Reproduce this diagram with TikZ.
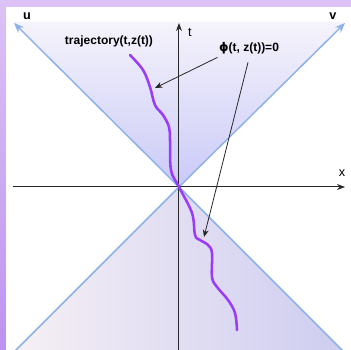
\documentclass[tikz,border=0pt]{standalone}
\usepackage{fontspec}
\setmainfont{Liberation Sans}
\newfontfamily\phifont{DejaVu Sans}
\usepackage{xcolor}
\usepackage{tikz}
\usetikzlibrary{arrows.meta,calc}

\definecolor{frameTop}{RGB}{220,194,246}
\definecolor{frameBot}{RGB}{190,146,240}
\definecolor{coneLine}{RGB}{140,178,232}
\definecolor{coneTop}{RGB}{245,243,251}
\definecolor{coneMid}{RGB}{202,202,248}
\definecolor{coneLeft}{RGB}{247,240,245}
\definecolor{coneRight}{RGB}{204,204,240}
\definecolor{trajPurple}{RGB}{155,58,250}
\definecolor{axisGray}{RGB}{40,40,40}

\begin{document}
\begin{tikzpicture}[
  x=0.75pt, y=0.75pt,
  font=\fontsize{9}{11}\selectfont,
  axis/.style={draw=axisGray, line width=0.75pt, -{Stealth[length=6pt,width=4.5pt]}},
  cone/.style={draw=coneLine, line width=1.1pt},
  conearrow/.style={cone, -{Stealth[length=7.5pt,width=6pt]}},
  traj/.style={draw=trajPurple, line width=1.9pt, line cap=round},
  pointer/.style={draw=axisGray, line width=0.6pt, -{Stealth[length=5.5pt,width=4.5pt]}},
  tag/.style={font=\fontsize{9}{11}\selectfont\bfseries, inner sep=1pt},
  axlabel/.style={font=\fontsize{9.5}{11}\selectfont, inner sep=1pt},
]
\useasboundingbox (-179,-163) rectangle (172,187);

% frame and white sheet
\shade[top color=frameTop, bottom color=frameBot] (-179,-163) rectangle (172,187);
\fill[white] (-173,-163) rectangle (172,180);

% points of the cone
\coordinate (O) at (0,0);
\coordinate (uTip) at (-165,164);
\coordinate (vTip) at (166,164);
\coordinate (pastL) at (-175,-175);
\coordinate (pastR) at (175,-175);

% future cone (vertical fade) and past cone (horizontal fade)
\shade[top color=coneTop, bottom color=coneMid] (O) -- (-165,165) -- (166,165) -- cycle;
\shade[left color=coneLeft, right color=coneRight] (O) -- (pastL) -- (pastR) -- cycle;

% light cone edges
\draw[conearrow] (O) -- (uTip);
\draw[conearrow] (O) -- (vTip);
\draw[cone] (O) -- (pastL);
\draw[cone] (O) -- (pastR);

% axes
\coordinate (xFrom) at (-166,0);
\coordinate (xTip) at (166,0);
\coordinate (tFrom) at (0,-170);
\coordinate (tTip) at (0,164);
\draw[axis] (xFrom) -- (xTip);
\draw[axis] (tFrom) -- (tTip);

% axis names
\node[axlabel, font=\fontsize{9.5}{11}\selectfont\bfseries] (lblU) at (-152,171) {u};
\node[axlabel, font=\fontsize{9.5}{11}\selectfont\bfseries] (lblV) at (154,171) {v};
\node[axlabel] (lblT) at (11,155) {t};
\node[axlabel] (lblX) at (163,14) {x};

% world line through the apex
\draw[traj] plot[smooth, tension=0.6] coordinates {
  (-49,132) (-36,117) (-29,100) (-24,82) (-16,72) (-10,60) (-9,47) (-8,17) (O)
  (13,-26) (16,-48) (21,-53) (29,-58) (33,-66) (33,-90) (38,-100) (49,-113) (56,-126) (58,-143)};

% labels and pointers
\node[tag] (trajLabel) at (-70,146) {trajectory(t,z(t))};
\node[tag] (phiLabel) at (70,139) {{\phifont ϕ}(t, z(t))=0};
\coordinate (trajHit) at (-24,99);
\coordinate (trajLow) at (25,-50);
\draw[pointer] ($(phiLabel.south west)+(0,-2)$) -- (trajHit);
\draw[pointer] ($(phiLabel.south)+(-1,-7)$) -- (trajLow);
\end{tikzpicture}
\end{document}
